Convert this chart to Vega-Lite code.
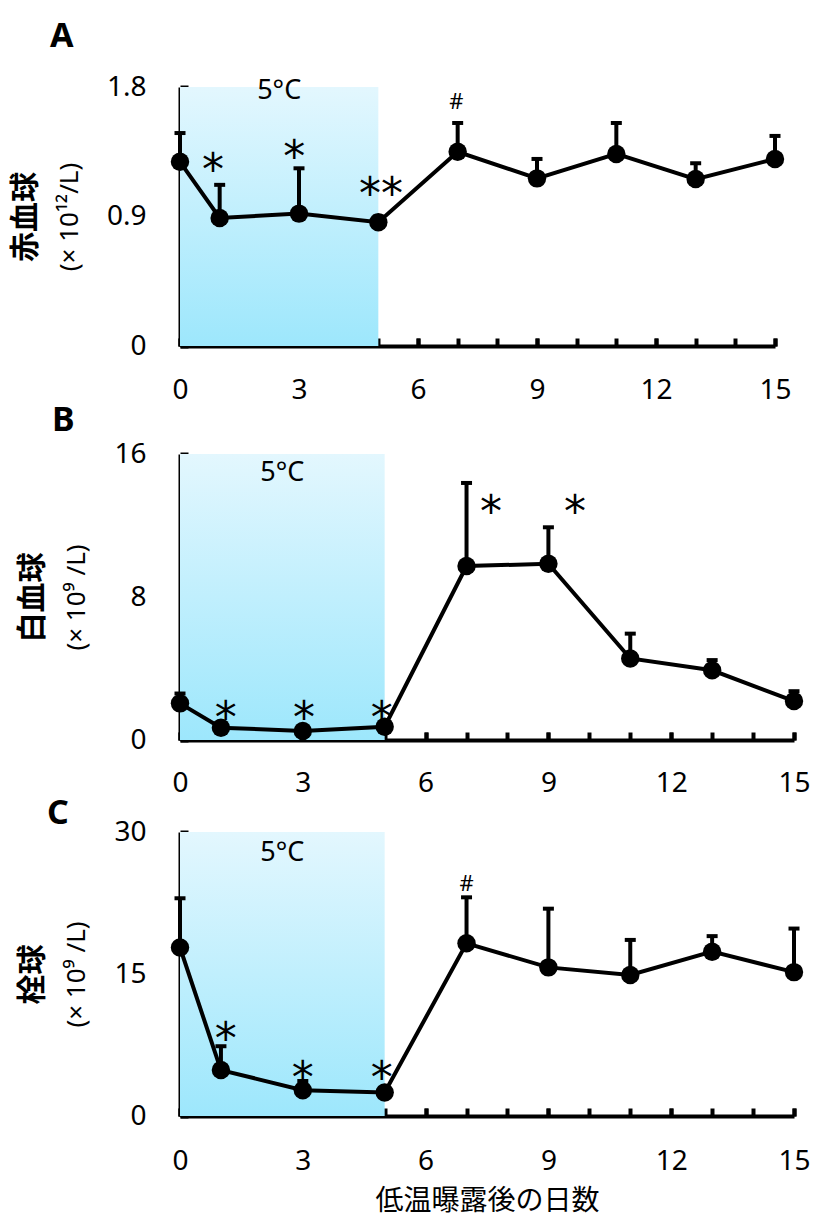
{
  "$schema": "https://vega.github.io/schema/vega-lite/v6.json",
  "background": "white",
  "padding": {"left": 10, "top": 20, "right": 10, "bottom": 4},
  "spacing": 0,
  "datasets": {
    "cold": [{"from": 0, "to": 5, "label": "5°C"}],
    "rbc": [
      {"day": 0, "mean": 1.28, "upper": 1.48},
      {"day": 1, "mean": 0.89, "upper": 1.12},
      {"day": 3, "mean": 0.92, "upper": 1.235},
      {"day": 5, "mean": 0.86, "upper": 0.9},
      {"day": 7, "mean": 1.35, "upper": 1.55},
      {"day": 9, "mean": 1.165, "upper": 1.3},
      {"day": 11, "mean": 1.335, "upper": 1.55},
      {"day": 13, "mean": 1.16, "upper": 1.27},
      {"day": 15, "mean": 1.3, "upper": 1.46}
    ],
    "wbc": [
      {"day": 0, "mean": 2.05, "upper": 2.6},
      {"day": 1, "mean": 0.69, "upper": 0.75},
      {"day": 3, "mean": 0.5, "upper": 0.55},
      {"day": 5, "mean": 0.74, "upper": 0.8},
      {"day": 7, "mean": 9.73, "upper": 14.38},
      {"day": 9, "mean": 9.86, "upper": 11.9},
      {"day": 11, "mean": 4.56, "upper": 5.95},
      {"day": 13, "mean": 3.9, "upper": 4.47},
      {"day": 15, "mean": 2.18, "upper": 2.73}
    ],
    "plt": [
      {"day": 0, "mean": 17.8, "upper": 23.0},
      {"day": 1, "mean": 4.85, "upper": 7.37},
      {"day": 3, "mean": 2.73, "upper": 3.7},
      {"day": 5, "mean": 2.48, "upper": 2.9},
      {"day": 7, "mean": 18.24, "upper": 23.1},
      {"day": 9, "mean": 15.7, "upper": 21.9},
      {"day": 11, "mean": 14.9, "upper": 18.6},
      {"day": 13, "mean": 17.36, "upper": 19.0},
      {"day": 15, "mean": 15.2, "upper": 19.8}
    ],
    "rbc_sig": [
      {"day": 0.83, "at": 1.29, "sym": "*"},
      {"day": 2.88, "at": 1.383, "sym": "*"},
      {"day": 5.07, "at": 1.126, "sym": "**"},
      {"day": 6.97, "at": 1.7, "sym": "#"}
    ],
    "wbc_sig": [
      {"day": 1.12, "at": 1.8, "sym": "*"},
      {"day": 3.03, "at": 1.8, "sym": "*"},
      {"day": 4.93, "at": 1.8, "sym": "*"},
      {"day": 7.6, "at": 13.3, "sym": "*"},
      {"day": 9.65, "at": 13.3, "sym": "*"}
    ],
    "plt_sig": [
      {"day": 1.12, "at": 9.2, "sym": "*"},
      {"day": 3.0, "at": 5.07, "sym": "*"},
      {"day": 4.93, "at": 5.07, "sym": "*"},
      {"day": 7.0, "at": 24.6, "sym": "#"}
    ]
  },
  "config": {
    "view": {"stroke": null},
    "axis": {
      "grid": false,
      "zindex": 1,
      "domainColor": "black",
      "domainWidth": 4,
      "tickColor": "black",
      "tickWidth": 4,
      "labelColor": "black",
      "labelFont": "Noto Sans",
      "labelFontSize": 28,
      "labelOverlap": false,
      "titleColor": "black"
    }
  },
  "vconcat": [
    {
      "width": 595,
      "height": 259,
      "title": {"text": "A", "anchor": "start", "frame": "group", "dx": -130, "offset": -8, "baseline": "alphabetic", "font": "Noto Sans", "fontSize": 34, "fontWeight": "bold", "color": "black"},
      "resolve": {"axis": {"x": "independent", "y": "independent"}},
      "layer": [
        {
          "data": {"name": "cold"},
          "mark": {"type": "rect", "fill": {"gradient": "linear", "x1": 0, "y1": 0, "x2": 0, "y2": 1, "stops": [{"offset": 0, "color": "#e3f7fe"}, {"offset": 1, "color": "#9de7fc"}]}},
          "encoding": {
            "x": {"field": "from", "type": "quantitative", "scale": {"domain": [0, 15], "nice": false},
              "axis": {"orient": "bottom", "values": [0, 3, 6, 9, 12, 15], "labelOverlap": false, "labelFlush": false, "tickSize": -8, "labelPadding": 38, "labelAngle": 0, "title": null}},
            "x2": {"field": "to"}
          }
        },
        {
          "data": {"name": "cold"},
          "transform": [{"calculate": "(datum.from + datum.to) / 2", "as": "mid"}],
          "mark": {"type": "text", "font": "Noto Sans", "fontSize": 27, "baseline": "alphabetic", "dy": 12, "color": "black"},
          "encoding": {
            "x": {"field": "mid", "type": "quantitative", "axis": null},
            "y": {"datum": 1.8, "type": "quantitative", "scale": {"domain": [0, 1.8], "nice": false}, "axis": null},
            "text": {"field": "label"}
          }
        },
        {
          "data": {"name": "rbc"},
          "mark": {"type": "rule", "strokeWidth": 4, "color": "black"},
          "encoding": {
            "x": {"field": "day", "type": "quantitative",
              "axis": {"orient": "bottom", "values": [0,1,2,3,4,5,6,7,8,9,10,11,12,13,14,15], "labels": false, "domain": false, "tickSize": -8, "title": null}},
            "y": {"field": "mean", "type": "quantitative", "axis": null},
            "y2": {"field": "upper"}
          }
        },
        {
          "data": {"name": "rbc"},
          "mark": {"type": "tick", "orient": "horizontal", "size": 11, "thickness": 4, "color": "black", "opacity": 1},
          "encoding": {
            "x": {"field": "day", "type": "quantitative", "axis": null},
            "y": {"field": "upper", "type": "quantitative", "axis": null}
          }
        },
        {
          "data": {"name": "rbc"},
          "mark": {"type": "line", "strokeWidth": 4, "color": "black"},
          "encoding": {
            "x": {"field": "day", "type": "quantitative", "axis": null},
            "y": {"field": "mean", "type": "quantitative",
              "axis": {"orient": "left", "values": [0, 0.45, 0.9, 1.35, 1.8], "labelExpr": "datum.value === 0 ? '0' : datum.value === 0.9 ? '0.9' : datum.value === 1.8 ? '1.8' : ''", "tickSize": -8, "labelPadding": 42, "title": "(× 10¹²/L)", "titleFont": "Noto Sans", "titleFontSize": 26, "titleFontWeight": "normal", "titlePadding": 24}}
          }
        },
        {
          "data": {"name": "rbc"},
          "mark": {"type": "point", "filled": true, "size": 340, "color": "black", "opacity": 1},
          "encoding": {
            "x": {"field": "day", "type": "quantitative", "axis": null},
            "y": {"field": "mean", "type": "quantitative",
              "axis": {"orient": "left", "labels": false, "ticks": false, "domain": false, "title": "赤血球", "titleFont": "Noto Sans CJK JP", "titleFontSize": 30, "titleFontWeight": "bold", "titlePadding": 140}}
          }
        },
        {
          "data": {"name": "rbc_sig"},
          "transform": [{"filter": "datum.sym !== '#'"}],
          "mark": {"type": "text", "font": "DejaVu Sans", "fontSize": 44, "baseline": "alphabetic", "dy": 25, "color": "black"},
          "encoding": {
            "x": {"field": "day", "type": "quantitative", "axis": null},
            "y": {"field": "at", "type": "quantitative", "axis": null},
            "text": {"field": "sym"}
          }
        },
        {
          "data": {"name": "rbc_sig"},
          "transform": [{"filter": "datum.sym === '#'"}],
          "mark": {"type": "text", "font": "Noto Sans", "fontSize": 22, "baseline": "alphabetic", "dy": 8, "color": "black"},
          "encoding": {
            "x": {"field": "day", "type": "quantitative", "axis": null},
            "y": {"field": "at", "type": "quantitative", "axis": null},
            "text": {"field": "sym"}
          }
        }
      ]
    },
    {
      "width": 614,
      "height": 286,
      "title": {"text": "B", "anchor": "start", "frame": "group", "dx": -128, "offset": -25, "baseline": "alphabetic", "font": "Noto Sans", "fontSize": 34, "fontWeight": "bold", "color": "black"},
      "resolve": {"axis": {"x": "independent", "y": "independent"}},
      "layer": [
        {
          "data": {"name": "cold"},
          "mark": {"type": "rect", "fill": {"gradient": "linear", "x1": 0, "y1": 0, "x2": 0, "y2": 1, "stops": [{"offset": 0, "color": "#e3f7fe"}, {"offset": 1, "color": "#9de7fc"}]}},
          "encoding": {
            "x": {"field": "from", "type": "quantitative", "scale": {"domain": [0, 15], "nice": false},
              "axis": {"orient": "bottom", "values": [0, 3, 6, 9, 12, 15], "labelOverlap": false, "labelFlush": false, "tickSize": -8, "labelPadding": 37, "labelAngle": 0, "title": null}},
            "x2": {"field": "to"}
          }
        },
        {
          "data": {"name": "cold"},
          "transform": [{"calculate": "(datum.from + datum.to) / 2", "as": "mid"}],
          "mark": {"type": "text", "font": "Noto Sans", "fontSize": 27, "baseline": "alphabetic", "dy": 27, "color": "black"},
          "encoding": {
            "x": {"field": "mid", "type": "quantitative", "axis": null},
            "y": {"datum": 16, "type": "quantitative", "scale": {"domain": [0, 16], "nice": false}, "axis": null},
            "text": {"field": "label"}
          }
        },
        {
          "data": {"name": "wbc"},
          "mark": {"type": "rule", "strokeWidth": 4, "color": "black"},
          "encoding": {
            "x": {"field": "day", "type": "quantitative",
              "axis": {"orient": "bottom", "values": [0,1,2,3,4,5,6,7,8,9,10,11,12,13,14,15], "labels": false, "domain": false, "tickSize": -8, "title": null}},
            "y": {"field": "mean", "type": "quantitative", "axis": null},
            "y2": {"field": "upper"}
          }
        },
        {
          "data": {"name": "wbc"},
          "mark": {"type": "tick", "orient": "horizontal", "size": 11, "thickness": 4, "color": "black", "opacity": 1},
          "encoding": {
            "x": {"field": "day", "type": "quantitative", "axis": null},
            "y": {"field": "upper", "type": "quantitative", "axis": null}
          }
        },
        {
          "data": {"name": "wbc"},
          "mark": {"type": "line", "strokeWidth": 4, "color": "black"},
          "encoding": {
            "x": {"field": "day", "type": "quantitative", "axis": null},
            "y": {"field": "mean", "type": "quantitative",
              "axis": {"orient": "left", "values": [0, 4, 8, 12, 16], "labelExpr": "datum.value % 8 === 0 ? datum.label : ''", "tickSize": -8, "labelPadding": 42, "title": "(× 10⁹ /L)", "titleFont": "Noto Sans", "titleFontSize": 26, "titleFontWeight": "normal", "titlePadding": 24}}
          }
        },
        {
          "data": {"name": "wbc"},
          "mark": {"type": "point", "filled": true, "size": 340, "color": "black", "opacity": 1},
          "encoding": {
            "x": {"field": "day", "type": "quantitative", "axis": null},
            "y": {"field": "mean", "type": "quantitative",
              "axis": {"orient": "left", "labels": false, "ticks": false, "domain": false, "title": "白血球", "titleFont": "Noto Sans CJK JP", "titleFontSize": 30, "titleFontWeight": "bold", "titlePadding": 133}}
          }
        },
        {
          "data": {"name": "wbc_sig"},
          "mark": {"type": "text", "font": "DejaVu Sans", "fontSize": 44, "baseline": "alphabetic", "dy": 25, "color": "black"},
          "encoding": {
            "x": {"field": "day", "type": "quantitative", "axis": null},
            "y": {"field": "at", "type": "quantitative", "axis": null},
            "text": {"field": "sym"}
          }
        }
      ]
    },
    {
      "width": 614,
      "height": 284,
      "title": {"text": "C", "anchor": "start", "frame": "group", "dx": -133, "offset": -40, "baseline": "alphabetic", "font": "Noto Sans", "fontSize": 34, "fontWeight": "bold", "color": "black"},
      "resolve": {"axis": {"x": "independent", "y": "independent"}},
      "layer": [
        {
          "data": {"name": "cold"},
          "mark": {"type": "rect", "fill": {"gradient": "linear", "x1": 0, "y1": 0, "x2": 0, "y2": 1, "stops": [{"offset": 0, "color": "#e3f7fe"}, {"offset": 1, "color": "#9de7fc"}]}},
          "encoding": {
            "x": {"field": "from", "type": "quantitative", "scale": {"domain": [0, 15], "nice": false},
              "axis": {"orient": "bottom", "values": [0, 3, 6, 9, 12, 15], "labelOverlap": false, "labelFlush": false, "tickSize": -8, "labelPadding": 39, "labelAngle": 0,
                "title": "低温曝露後の日数", "titleFont": "Noto Sans CJK JP", "titleFontSize": 28, "titleFontWeight": "normal", "titlePadding": 12}},
            "x2": {"field": "to"}
          }
        },
        {
          "data": {"name": "cold"},
          "transform": [{"calculate": "(datum.from + datum.to) / 2", "as": "mid"}],
          "mark": {"type": "text", "font": "Noto Sans", "fontSize": 27, "baseline": "alphabetic", "dy": 29, "color": "black"},
          "encoding": {
            "x": {"field": "mid", "type": "quantitative", "axis": null},
            "y": {"datum": 30, "type": "quantitative", "scale": {"domain": [0, 30], "nice": false}, "axis": null},
            "text": {"field": "label"}
          }
        },
        {
          "data": {"name": "plt"},
          "mark": {"type": "rule", "strokeWidth": 4, "color": "black"},
          "encoding": {
            "x": {"field": "day", "type": "quantitative",
              "axis": {"orient": "bottom", "values": [0,1,2,3,4,5,6,7,8,9,10,11,12,13,14,15], "labels": false, "domain": false, "tickSize": -8, "title": null}},
            "y": {"field": "mean", "type": "quantitative", "axis": null},
            "y2": {"field": "upper"}
          }
        },
        {
          "data": {"name": "plt"},
          "mark": {"type": "tick", "orient": "horizontal", "size": 11, "thickness": 4, "color": "black", "opacity": 1},
          "encoding": {
            "x": {"field": "day", "type": "quantitative", "axis": null},
            "y": {"field": "upper", "type": "quantitative", "axis": null}
          }
        },
        {
          "data": {"name": "plt"},
          "mark": {"type": "line", "strokeWidth": 4, "color": "black"},
          "encoding": {
            "x": {"field": "day", "type": "quantitative", "axis": null},
            "y": {"field": "mean", "type": "quantitative",
              "axis": {"orient": "left", "values": [0, 7.5, 15, 22.5, 30], "labelExpr": "datum.value % 15 === 0 ? datum.label : ''", "tickSize": -8, "labelPadding": 42, "title": "(× 10⁹ /L)", "titleFont": "Noto Sans", "titleFontSize": 26, "titleFontWeight": "normal", "titlePadding": 24}}
          }
        },
        {
          "data": {"name": "plt"},
          "mark": {"type": "point", "filled": true, "size": 340, "color": "black", "opacity": 1},
          "encoding": {
            "x": {"field": "day", "type": "quantitative", "axis": null},
            "y": {"field": "mean", "type": "quantitative",
              "axis": {"orient": "left", "labels": false, "ticks": false, "domain": false, "title": "栓球", "titleFont": "Noto Sans CJK JP", "titleFontSize": 30, "titleFontWeight": "bold", "titlePadding": 133}}
          }
        },
        {
          "data": {"name": "plt_sig"},
          "transform": [{"filter": "datum.sym !== '#'"}],
          "mark": {"type": "text", "font": "DejaVu Sans", "fontSize": 44, "baseline": "alphabetic", "dy": 25, "color": "black"},
          "encoding": {
            "x": {"field": "day", "type": "quantitative", "axis": null},
            "y": {"field": "at", "type": "quantitative", "axis": null},
            "text": {"field": "sym"}
          }
        },
        {
          "data": {"name": "plt_sig"},
          "transform": [{"filter": "datum.sym === '#'"}],
          "mark": {"type": "text", "font": "Noto Sans", "fontSize": 22, "baseline": "alphabetic", "dy": 8, "color": "black"},
          "encoding": {
            "x": {"field": "day", "type": "quantitative", "axis": null},
            "y": {"field": "at", "type": "quantitative", "axis": null},
            "text": {"field": "sym"}
          }
        }
      ]
    }
  ]
}
